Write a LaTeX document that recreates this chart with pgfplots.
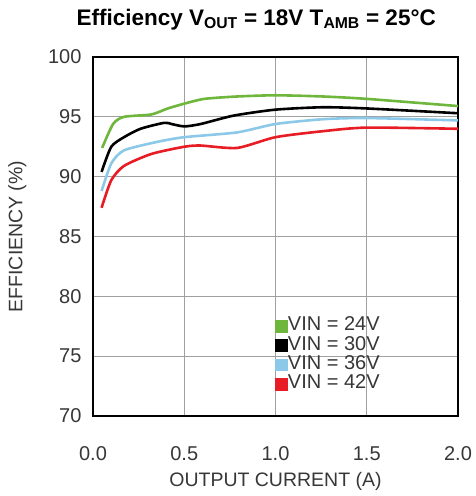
\documentclass[border=0pt]{standalone}
\usepackage{fontspec}
\setmainfont{Liberation Sans}
\usepackage{pgfplots}
\pgfplotsset{compat=1.18}
\definecolor{cGreen}{RGB}{110,182,60}
\definecolor{cBlue}{RGB}{140,200,232}
\definecolor{cRed}{RGB}{232,28,36}
\definecolor{cGrid}{RGB}{160,160,160}
\definecolor{cText}{RGB}{55,55,55}
\begin{document}
\begin{tikzpicture}
\begin{axis}[
  scale only axis,
  width=365pt, height=359pt,
  xmin=0, xmax=2, ymin=70, ymax=100,
  xtick={0,0.5,1,1.5,2},
  xticklabels={0.0,0.5,1.0,1.5,2.0},
  ytick={70,75,...,100},
  /pgf/number format/assume math mode=true,
  ticklabel style={font=\fontsize{20}{23}\selectfont, text=cText},
  xticklabel style={yshift=-27pt},
  yticklabel style={xshift=-8pt},
  major tick length=3pt,
  tick style={cGrid, line width=1.2pt},
  grid=major,
  grid style={cGrid, line width=1.2pt},
  axis line style={line width=2pt},
  xlabel={OUTPUT CURRENT (A)},
  ylabel={EFFICIENCY (\%)},
  every axis x label/.style={at={(axis description cs:0.5,-0.195)}, anchor=base,
    font=\fontsize{19.5}{22}\selectfont, text=cText},
  every axis y label/.style={at={(axis description cs:-0.207,0.5)}, rotate=90, anchor=center,
    font=\fontsize{19.5}{22}\selectfont, text=cText},
  title={\bfseries Efficiency V\textsubscript{OUT} = 18V T\textsubscript{AMB} = 25°C},
  every axis title/.style={at={(axis description cs:0.447,1.089)}, anchor=base,
    font=\fontsize{22.5}{25}\selectfont},
  legend style={draw=none, fill=none, at={(0.499,0.277)}, anchor=north west,
    font=\fontsize{20}{22}\selectfont, text=cText, row sep=3.6pt,
    inner sep=0pt, nodes={inner sep=0pt, text height=14pt, text depth=0pt}},
  legend cell align=left,
  legend image code/.code={\fill[#1] (0pt,-7.5pt) rectangle (10pt,2.5pt);},
  every axis plot/.append style={line width=2.6pt, smooth, tension=0.4},
]
\addplot[cGreen] coordinates {
 (0.05,92.4) (0.11,94.4) (0.17,95.0) (0.32,95.2) (0.41,95.7) (0.5,96.1)
 (0.61,96.5) (0.79,96.7) (1.0,96.8) (1.26,96.7) (1.5,96.5) (2.0,95.9)};
\addlegendentry{VIN = 24V}
\addplot[black] coordinates {
 (0.047,90.4) (0.1,92.5) (0.17,93.3) (0.26,94.0) (0.39,94.5) (0.43,94.4)
 (0.5,94.2) (0.59,94.4) (0.77,95.1) (1.0,95.6) (1.26,95.8) (1.5,95.7) (2.0,95.3)};
\addlegendentry{VIN = 30V}
\addplot[cBlue] coordinates {
 (0.047,88.8) (0.1,91.1) (0.17,92.2) (0.35,92.9) (0.5,93.3) (0.79,93.7)
 (1.0,94.4) (1.26,94.8) (1.5,94.9) (2.0,94.7)};
\addlegendentry{VIN = 36V}
\addplot[cRed] coordinates {
 (0.047,87.4) (0.1,89.7) (0.17,90.9) (0.32,91.9) (0.5,92.5) (0.59,92.6)
 (0.79,92.4) (1.0,93.3) (1.26,93.8) (1.5,94.1) (2.0,94.0)};
\addlegendentry{VIN = 42V}
\end{axis}
\path (current axis.south west) ++(-93pt,-80pt) coordinate (bbA);
\path (current axis.north east) ++(16pt,57pt) coordinate (bbB);
\path (bbA) rectangle (bbB);
\end{tikzpicture}
\end{document}
